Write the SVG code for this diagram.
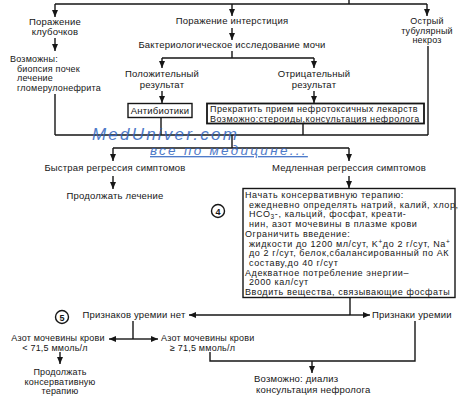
<svg xmlns="http://www.w3.org/2000/svg" width="464" height="400" viewBox="0 0 464 400">
<style>
text{font-family:"Liberation Sans",Arial,sans-serif;font-size:9.5px;fill:#161616;letter-spacing:0.2px}
.c{text-anchor:middle}
.s{font-size:9px}
.b{font-size:9px;letter-spacing:0.6px}
.ln{fill:none;stroke:#161616;stroke-width:1.4}
.bx{fill:#fff;stroke:#161616;stroke-width:1.4}
.wm{font-family:"Liberation Sans",Arial,sans-serif;font-style:italic;fill:#3064c0;opacity:0.85}
</style>
<defs>
<marker id="ah" markerWidth="8" markerHeight="6" refX="7" refY="3" orient="auto" markerUnits="userSpaceOnUse"><path d="M0,0 L7,3 L0,6 z" fill="#161616"/></marker>
</defs>
<rect width="464" height="400" fill="#fff"/>
<g id="connectors">
<path class="ln" d="M349,0 V4 M55,4 H427"/>
<path class="ln" d="M55,4 V17" marker-end="url(#ah)"/>
<path class="ln" d="M232,4 V16" marker-end="url(#ah)"/>
<path class="ln" d="M427,4 V16" marker-end="url(#ah)"/>
<path class="ln" d="M55,38 V51" marker-end="url(#ah)"/>
<path class="ln" d="M232,28 V40" marker-end="url(#ah)"/>
<path class="ln" d="M232,51 V58 M162,58 H314"/>
<path class="ln" d="M162,58 V68" marker-end="url(#ah)"/>
<path class="ln" d="M314,58 V68" marker-end="url(#ah)"/>
<path class="ln" d="M162,91 V103" marker-end="url(#ah)"/>
<path class="ln" d="M314,91 V103" marker-end="url(#ah)"/>
<path class="ln" d="M55,94 V135 M161,117 V135 M303,123 V135 M428,46 V135 M55,135 H428 M232,135 V148 M113,148 H349"/>
<path class="ln" d="M113,148 V161" marker-end="url(#ah)"/>
<path class="ln" d="M349,148 V161" marker-end="url(#ah)"/>
<path class="ln" d="M113,176 V189" marker-end="url(#ah)"/>
<path class="ln" d="M349,176 V188" marker-end="url(#ah)"/>
<path class="ln" d="M350,298 V315"/>
<path class="ln" d="M350,315 H189" marker-end="url(#ah)"/>
<path class="ln" d="M350,315 H370" marker-end="url(#ah)"/>
<path class="ln" d="M133,321 V339"/>
<path class="ln" d="M133,339 H109" marker-end="url(#ah)"/>
<path class="ln" d="M133,339 H158" marker-end="url(#ah)"/>
<path class="ln" d="M60,352 V364" marker-end="url(#ah)"/>
<path class="ln" d="M210,352 V361 H415 V321"/>
<path class="ln" d="M312,361 V373" marker-end="url(#ah)"/>
</g>
<g id="n-glom"><text class="c" x="55" y="25">Поражение</text><text class="c" x="55" y="35">клубочков</text></g>
<g id="n-glom-do"><text class="s" x="10" y="62">Возможны:</text><text class="s" x="17" y="71.5">биопсия почек</text><text class="s" x="17" y="81">лечение</text><text class="s" x="17" y="90.5">гломерулонефрита</text></g>
<g id="n-inter"><text class="c" x="232" y="24">Поражение интерстиция</text></g>
<g id="n-bact"><text class="c" x="232" y="48">Бактериологическое исследование мочи</text></g>
<g id="n-necr"><text class="c s" x="427" y="24">Острый</text><text class="c s" x="427" y="33.5">тубулярный</text><text class="c s" x="427" y="43">некроз</text></g>
<g id="n-pos"><text class="c" x="162" y="77">Положительный</text><text class="c" x="162" y="88">результат</text></g>
<g id="n-neg"><text class="c" x="314" y="77">Отрицательный</text><text class="c" x="314" y="88">результат</text></g>
<g id="n-ab"><rect class="bx" x="128" y="103.5" width="64" height="14"/><text class="c" x="160" y="114">Антибиотики</text></g>
<g id="n-stop"><rect class="bx" x="207" y="103.5" width="217" height="20" style="stroke-width:1.8"/><text class="s" x="210" y="112" style="letter-spacing:0.45px">Прекратить прием нефротоксичных лекарств</text><text class="s" x="210" y="121.5" style="letter-spacing:0.45px">Возможно:стероиды,консультация нефролога</text></g>
<g id="watermark"><text class="wm" x="92" y="139.5" style="font-size:17px;letter-spacing:2.2px">MedUniver.com</text><text class="wm" x="150" y="155" style="font-size:13.5px;letter-spacing:2.3px;text-decoration:underline">все по медицине...</text></g>
<g id="n-fast"><text class="c" x="115" y="171">Быстрая регрессия симптомов</text></g>
<g id="n-cont"><text class="c" x="115" y="199">Продолжать лечение</text></g>
<g id="n-slow"><text class="c" x="349" y="171">Медленная регрессия симптомов</text></g>
<g id="n-c4"><circle cx="218" cy="211" r="6.5" fill="none" stroke="#161616" stroke-width="1.4"/><text class="c" x="218" y="214.5" style="font-size:9px;font-weight:bold;letter-spacing:0">4</text></g>
<g id="n-cons">
<rect class="bx" x="243" y="188.5" width="212" height="109"/>
<text class="b" x="245" y="198">Начать консервативную терапию:</text>
<text class="b" x="249" y="207.7">ежедневно определять натрий, калий, хлор,</text>
<text class="b" x="249" y="217.4">НСО<tspan dy="1.5" style="font-size:6.5px">3</tspan><tspan dy="-1.5">-, кальций, фосфат, креати-</tspan></text>
<text class="b" x="249" y="227.1">нин, азот мочевины  в плазме крови</text>
<text class="b" x="245" y="236.8">Ограничить введение:</text>
<text class="b" x="249" y="246.5">жидкости до 1200 мл/сут, K<tspan dy="-3" style="font-size:6.5px">+</tspan><tspan dy="3">до 2 г/сут, Na</tspan><tspan dy="-3" style="font-size:6.5px">+</tspan></text>
<text class="b" x="249" y="256.2">до 2 г/сут, белок,сбалансированный по АК</text>
<text class="b" x="249" y="265.9">составу,до 40 г/сут</text>
<text class="b" x="245" y="275.6">Адекватное потребление энергии–</text>
<text class="b" x="249" y="285.3">2000 кал/сут</text>
<text class="b" x="245" y="295">Вводить вещества, связывающие фосфаты</text>
</g>
<g id="n-c5"><circle cx="62" cy="317" r="6.5" fill="none" stroke="#161616" stroke-width="1.4"/><text class="c" x="62" y="320.5" style="font-size:9px;font-weight:bold;letter-spacing:0">5</text></g>
<g id="n-nour"><text class="c" x="134" y="318">Признаков уремии нет</text></g>
<g id="n-ur"><text x="372" y="318">Признаки уремии</text></g>
<g id="n-low"><text class="c s" x="58" y="341">Азот мочевины крови</text><text class="c s" x="55" y="350.5">&lt; 71,5 ммоль/л</text></g>
<g id="n-high"><text class="s" x="161" y="341">Азот мочевины крови</text><text class="s" x="170" y="350.5">≥ 71,5 ммоль/л</text></g>
<g id="n-contc"><text class="c s" x="60" y="375">Продолжать</text><text class="c s" x="60" y="384.5">консервативную</text><text class="c s" x="60" y="394">терапию</text></g>
<g id="n-dial"><text x="254" y="382">Возможно: диализ</text><text x="256" y="392.5">консультация нефролога</text></g>
</svg>
